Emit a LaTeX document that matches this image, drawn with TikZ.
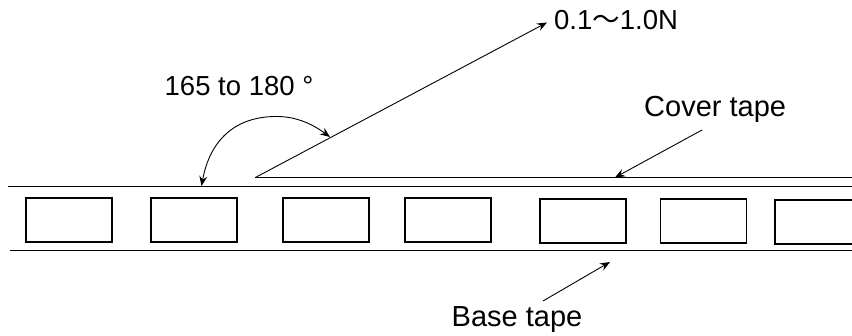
\documentclass[tikz,border=0pt]{standalone}
\usepackage{fontspec}
\setmainfont{Liberation Sans}
\newfontfamily\cjkfont{Noto Sans CJK JP}
\usetikzlibrary{arrows.meta}
\tikzset{
  label/.style={inner sep=0pt, anchor=base west, font=\fontsize{29}{31}\selectfont},
  smalllabel/.style={label, font=\fontsize{27.5}{30}\selectfont},
  pocket/.style={draw, line width=1.6pt, minimum width=86pt, minimum height=44pt, inner sep=0pt, anchor=north west},
  tape/.style={line width=1pt},
  tip/.style={>={Stealth[length=10pt, width=8pt, inset=3.5pt]}, line width=0.9pt}
}
\begin{document}
\begin{tikzpicture}[x=1pt, y=-1pt]
  \clip (0,0) rectangle (852,336);
  \node[smalllabel] (force) at (554,30) {0.1{\cjkfont ～}1.0N};
  \node[smalllabel] (angle) at (164.5,96) {165 to 180 °};
  \node[label] (cover) at (644,117) {Cover tape};
  \node[label] (base) at (451.5,327) {Base tape};

  \node[pocket] (p1) at (25,197) {};
  \node[pocket] (p2) at (150,197.5) {};
  \node[pocket] (p3) at (282,197) {};
  \node[pocket] (p4) at (404,197) {};
  \node[pocket] (p5) at (539,198) {};
  \node[pocket] (p6) at (659.5,198) {};
  \node[pocket] (p7) at (774,199) {};

  \coordinate (apex) at (255,177.7);
  \coordinate (coverend) at (852,177.7);
  \coordinate (topa) at (8,186.5);
  \coordinate (topb) at (852,186.5);
  \coordinate (bota) at (10,251);
  \coordinate (botb) at (852,251);
  \coordinate (covertip) at (615,177.5);
  \coordinate (covertail) at (702,130);
  \coordinate (basetip) at (610,262);
  \coordinate (basetail) at (543,301);
  \coordinate (forcetip) at (547,22.5);
  \coordinate (arctop) at (275,116.5);
  \coordinate (arca) at (201.5,186);
  \coordinate (arcb) at (330,137);

  \draw[tape] (topa) -- (topb);
  \draw[tape] (bota) -- (botb);
  \draw[tape] (apex) -- (coverend);
  \draw[tip, ->] (apex) -- (forcetip);
  \draw[tip, ->] (covertail) -- (covertip);
  \draw[tip, ->] (basetail) -- (basetip);
  \draw[tip, <->] (arca) .. controls (210,140) and (235,117) .. (arctop) .. controls (298,116) and (315,126) .. (arcb);
\end{tikzpicture}
\end{document}
